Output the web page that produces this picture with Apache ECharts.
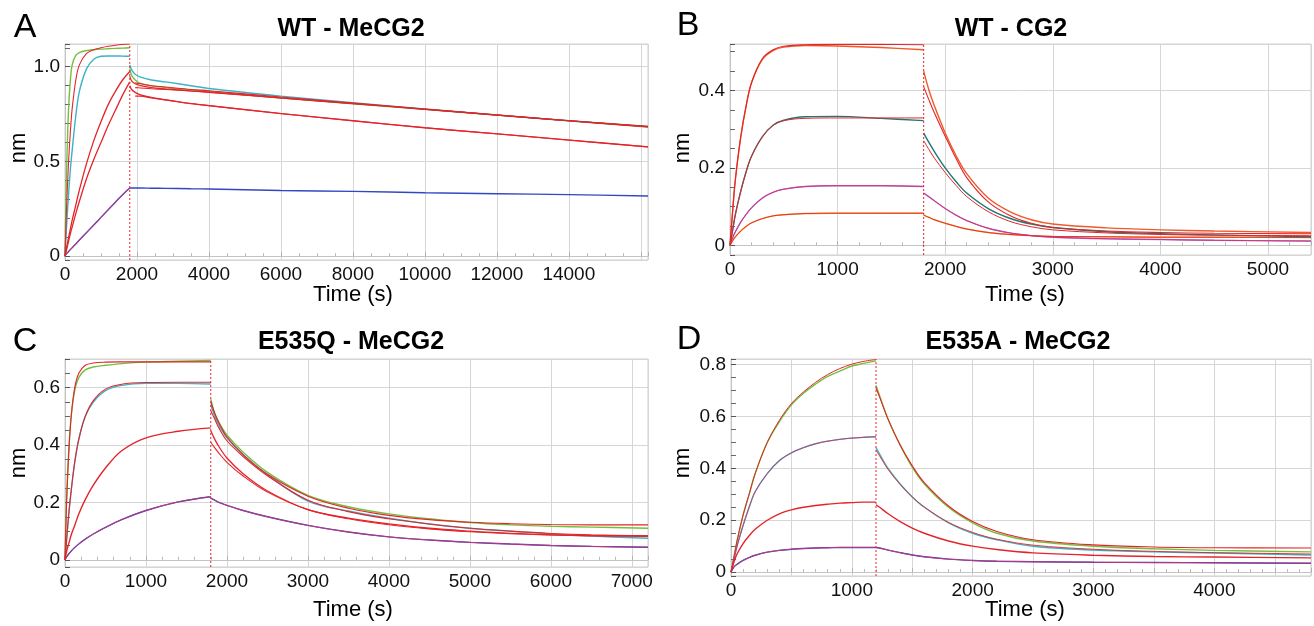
<!DOCTYPE html>
<html><head><meta charset="utf-8">
<script src="https://cdn.jsdelivr.net/npm/echarts@6/dist/echarts.min.js"></script>
<style>html,body{margin:0;padding:0;background:#fff}#c{width:1314px;height:626px}</style>
</head><body><div id="c"></div>
<script>
// ---------------- Panel A : WT - MeCG2 ----------------
const aSwitch = 1800;
const aTimeAssoc = [0, 25, 50, 100, 150, 200, 300, 400, 600, 800, 1000, 1200, 1400, 1600, 1800];
const aTimeDiss  = [1800, 1850, 1950, 2100, 2400, 2800, 3500, 4000, 6000, 8000, 10000, 12000, 14000, 16200];
const aGreenAssoc = [0, 0.28, 0.5, 0.78, 0.93, 1.01, 1.06, 1.075, 1.085, 1.09, 1.093, 1.095, 1.097, 1.098, 1.10];
const aGreenDiss  = [0.99, 0.955, 0.93, 0.912, 0.9, 0.89, 0.877, 0.87, 0.835, 0.805, 0.775, 0.745, 0.715, 0.682];
const aCyanAssoc  = [0, 0.09, 0.18, 0.33, 0.46, 0.56, 0.74, 0.87, 0.99, 1.04, 1.055, 1.057, 1.057, 1.056, 1.055];
const aCyanDiss   = [1.01, 0.985, 0.96, 0.945, 0.93, 0.92, 0.9, 0.885, 0.845, 0.81, 0.777, 0.745, 0.715, 0.685];
const aFitTopAssoc = [0, 0.15, 0.29, 0.5, 0.66, 0.78, 0.93, 1.01, 1.07, 1.09, 1.10, 1.108, 1.113, 1.117, 1.12];
const aRed3Assoc  = [0, 0.025, 0.05, 0.1, 0.145, 0.19, 0.27, 0.35, 0.49, 0.61, 0.71, 0.8, 0.87, 0.93, 0.975];
const aRed3Diss   = [0.95, 0.925, 0.91, 0.9, 0.89, 0.883, 0.872, 0.865, 0.835, 0.805, 0.775, 0.745, 0.715, 0.683];
const aRed4Assoc  = [0, 0.02, 0.04, 0.08, 0.12, 0.155, 0.225, 0.29, 0.41, 0.51, 0.6, 0.69, 0.77, 0.85, 0.92];
const aRed4Diss   = [0.9, 0.88, 0.865, 0.852, 0.838, 0.825, 0.805, 0.795, 0.753, 0.715, 0.678, 0.646, 0.613, 0.577];
const aBlueAssoc  = [0, 0.01, 0.015, 0.025, 0.035, 0.045, 0.065, 0.085, 0.125, 0.165, 0.205, 0.245, 0.285, 0.325, 0.36];
const aBlueDiss   = [0.36, 0.36, 0.36, 0.36, 0.359, 0.358, 0.356, 0.355, 0.347, 0.342, 0.335, 0.33, 0.325, 0.318];
const aFit1Diss   = [null, null, 0.915, 0.91, 0.9, 0.893, 0.88, 0.873, 0.84, 0.808, 0.777, 0.745, 0.715, 0.685];
const aFit2Diss   = [null, null, 0.89, 0.888, 0.884, 0.88, 0.872, 0.866, 0.835, 0.806, 0.776, 0.745, 0.715, 0.683];
const aFit4Diss   = [null, null, 0.845, 0.845, 0.835, 0.825, 0.806, 0.795, 0.753, 0.715, 0.678, 0.646, 0.613, 0.577];

// ---------------- Panel B : WT - CG2 ----------------
const bSwitch = 1800;
const bTimeAssoc = [0, 25, 50, 100, 150, 200, 300, 400, 500, 700, 1000, 1400, 1800];
const bTimeDiss  = [1800, 1850, 1900, 2000, 2100, 2200, 2400, 2600, 2800, 3000, 3500, 4000, 4500, 5400];
const bTopAssoc    = [0, 0.09, 0.17, 0.28, 0.36, 0.42, 0.48, 0.503, 0.512, 0.516, 0.515, 0.511, 0.505];
const bTopFitAssoc = [0, 0.09, 0.17, 0.28, 0.36, 0.42, 0.482, 0.505, 0.514, 0.518, 0.519, 0.519, 0.518];
const bTopDiss     = [0.45, 0.4, 0.36, 0.29, 0.232, 0.185, 0.122, 0.087, 0.066, 0.055, 0.045, 0.04, 0.037, 0.033];
const bTopFitDiss  = [0.41, 0.375, 0.342, 0.282, 0.225, 0.175, 0.112, 0.077, 0.057, 0.046, 0.037, 0.033, 0.031, 0.03];
const bTealAssoc   = [0, 0.04, 0.08, 0.14, 0.19, 0.23, 0.28, 0.31, 0.323, 0.332, 0.333, 0.328, 0.322];
const bTealFitAssoc= [0, 0.04, 0.08, 0.14, 0.19, 0.23, 0.28, 0.31, 0.322, 0.328, 0.329, 0.329, 0.329];
const bTealDiss    = [0.29, 0.265, 0.242, 0.2, 0.165, 0.135, 0.095, 0.07, 0.055, 0.046, 0.035, 0.03, 0.027, 0.022];
const bTealFitDiss = [0.27, 0.247, 0.225, 0.188, 0.155, 0.126, 0.087, 0.062, 0.048, 0.04, 0.032, 0.028, 0.026, 0.025];
const bPurpleAssoc = [0, 0.02, 0.035, 0.06, 0.08, 0.097, 0.122, 0.137, 0.145, 0.152, 0.154, 0.154, 0.152];
const bPurpleDiss  = [0.135, 0.125, 0.115, 0.095, 0.078, 0.064, 0.044, 0.032, 0.025, 0.021, 0.017, 0.015, 0.013, 0.011];
const bOrangeAssoc = [0, 0.012, 0.022, 0.037, 0.049, 0.058, 0.069, 0.076, 0.079, 0.082, 0.083, 0.083, 0.083];
const bOrangeDiss  = [0.078, 0.072, 0.066, 0.057, 0.049, 0.042, 0.033, 0.028, 0.025, 0.023, 0.022, 0.021, 0.021, 0.02];

// ---------------- Panel C : E535Q - MeCG2 ----------------
const cSwitch = 1800;
const cTimeAssoc = [0, 20, 50, 80, 120, 170, 250, 350, 500, 700, 1000, 1400, 1800];
const cTimeDiss  = [1800, 1850, 1900, 2000, 2200, 2500, 3000, 3500, 4000, 4500, 5000, 5500, 6000, 6500, 7200];
const cGreenAssoc    = [0, 0.22, 0.4, 0.51, 0.59, 0.635, 0.662, 0.672, 0.678, 0.684, 0.689, 0.692, 0.695];
const cGreenFitAssoc = [0, 0.2, 0.39, 0.51, 0.6, 0.65, 0.678, 0.686, 0.689, 0.69, 0.69, 0.69, 0.69];
const cGreenDiss     = [0.56, 0.51, 0.48, 0.435, 0.375, 0.305, 0.225, 0.185, 0.16, 0.143, 0.13, 0.122, 0.117, 0.114, 0.11];
const cGreenFitDiss  = [0.55, 0.51, 0.478, 0.428, 0.367, 0.298, 0.222, 0.18, 0.155, 0.14, 0.131, 0.126, 0.123, 0.122, 0.122];
const cCyanAssoc     = [0, 0.07, 0.17, 0.25, 0.34, 0.42, 0.5, 0.55, 0.59, 0.608, 0.615, 0.615, 0.613];
const cCyanFitAssoc  = [0, 0.07, 0.17, 0.25, 0.34, 0.42, 0.5, 0.555, 0.595, 0.612, 0.618, 0.619, 0.619];
const cCyanDiss      = [0.54, 0.5, 0.47, 0.425, 0.365, 0.297, 0.205, 0.17, 0.145, 0.125, 0.11, 0.1, 0.09, 0.083, 0.075];
const cCyanFitDiss   = [0.52, 0.49, 0.46, 0.415, 0.36, 0.293, 0.208, 0.168, 0.143, 0.125, 0.11, 0.1, 0.092, 0.087, 0.084];
const cRedAssoc      = [0, 0.03, 0.06, 0.09, 0.12, 0.16, 0.21, 0.26, 0.32, 0.38, 0.425, 0.448, 0.46];
const cRedDiss       = [0.45, 0.42, 0.395, 0.355, 0.3, 0.24, 0.175, 0.145, 0.125, 0.11, 0.1, 0.092, 0.087, 0.084, 0.082];
const cRedFitDiss    = [0.41, 0.39, 0.372, 0.34, 0.292, 0.236, 0.175, 0.143, 0.122, 0.108, 0.098, 0.091, 0.087, 0.085, 0.084];
const cBlueAssoc     = [0, 0.01, 0.022, 0.032, 0.043, 0.055, 0.072, 0.09, 0.113, 0.14, 0.172, 0.202, 0.22];
const cBlueDiss      = [0.215, 0.208, 0.2, 0.19, 0.172, 0.15, 0.12, 0.097, 0.08, 0.069, 0.061, 0.055, 0.05, 0.047, 0.044];

// ---------------- Panel D : E535A - MeCG2 ----------------
const dSwitch = 1200;
const dTimeAssoc = [0, 25, 50, 100, 150, 200, 300, 400, 500, 600, 700, 800, 900, 1000, 1100, 1200];
const dTimeDiss  = [1200, 1230, 1300, 1400, 1500, 1600, 1800, 2000, 2200, 2500, 3000, 3500, 4000, 4800];
const dGreenAssoc = [0, 0.06, 0.12, 0.22, 0.3, 0.38, 0.5, 0.58, 0.645, 0.69, 0.725, 0.755, 0.775, 0.795, 0.805, 0.815];
const dGreenFitAssoc = [0, 0.06, 0.12, 0.22, 0.3, 0.38, 0.5, 0.585, 0.65, 0.695, 0.732, 0.762, 0.785, 0.802, 0.813, 0.82];
const dGreenDiss  = [0.72, 0.68, 0.59, 0.49, 0.405, 0.34, 0.25, 0.19, 0.15, 0.12, 0.1, 0.09, 0.084, 0.078];
const dGreenFitDiss = [0.71, 0.675, 0.59, 0.49, 0.41, 0.345, 0.255, 0.195, 0.157, 0.125, 0.105, 0.097, 0.094, 0.093];
const dCyanAssoc  = [0, 0.05, 0.1, 0.18, 0.25, 0.31, 0.38, 0.43, 0.46, 0.48, 0.495, 0.505, 0.512, 0.517, 0.52, 0.522];
const dCyanDiss   = [0.48, 0.455, 0.4, 0.34, 0.29, 0.25, 0.19, 0.15, 0.125, 0.1, 0.085, 0.078, 0.074, 0.066];
const dCyanFitDiss = [0.47, 0.448, 0.396, 0.338, 0.29, 0.251, 0.192, 0.153, 0.127, 0.104, 0.088, 0.08, 0.075, 0.07];
const dRedAssoc   = [0, 0.04, 0.07, 0.11, 0.14, 0.165, 0.2, 0.225, 0.24, 0.25, 0.257, 0.262, 0.266, 0.268, 0.27, 0.27];
const dRedDiss    = [0.26, 0.25, 0.225, 0.195, 0.17, 0.15, 0.12, 0.1, 0.087, 0.074, 0.065, 0.06, 0.058, 0.055];
const dBlueAssoc  = [0, 0.02, 0.03, 0.045, 0.056, 0.065, 0.077, 0.084, 0.088, 0.091, 0.093, 0.094, 0.095, 0.095, 0.095, 0.095];
const dBlueDiss   = [0.095, 0.093, 0.085, 0.075, 0.066, 0.059, 0.05, 0.045, 0.042, 0.04, 0.038, 0.037, 0.036, 0.034];

// tick label lists
const aXLabels = [0, 2000, 4000, 6000, 8000, 10000, 12000, 14000];
const bXLabels = [0, 1000, 2000, 3000, 4000, 5000];
const cXLabels = [0, 1000, 2000, 3000, 4000, 5000, 6000, 7000];
const dXLabels = [0, 1000, 2000, 3000, 4000];
const aYLabels = [0, 0.5, 1.0];
const bYLabels = [0, 0.2, 0.4];
const cYLabels = [0, 0.2, 0.4, 0.6];
const dYLabels = [0, 0.2, 0.4, 0.6, 0.8];

const RED = '#e4242a', GREEN = '#72c03e', CYAN = '#3cb3c6', BLUE = '#3347c2',
      PURPLE = '#a678e6', ORANGE = '#f2a132', TEAL = '#1f7774', PINK = '#d8316a';
const FONT = 'Liberation Sans, Arial, sans-serif';

function pairs(ts, vs) {
  const out = [];
  ts.forEach((t, i) => { if (vs[i] !== null && vs[i] !== undefined) out.push([t, vs[i]]); });
  return out;
}
function line(g, ts, vs, color, width, z) {
  return {
    type: 'line', xAxisIndex: g, yAxisIndex: g, data: pairs(ts, vs),
    showSymbol: false, symbol: 'none', smooth: 0.35,
    lineStyle: { color: color, width: width }, itemStyle: { color: color },
    silent: true, animation: false, z: z, clip: true
  };
}

const grids = [
  { left: 65, top: 44, width: 583, height: 216 },
  { left: 730, top: 44, width: 584, height: 211 },
  { left: 65, top: 359, width: 583, height: 208 },
  { left: 731, top: 359, width: 583, height: 217 }
];
const xCfg = [
  { max: 16200, interval: 2000, minor: 4, labels: aXLabels },
  { max: 5400, interval: 1000, minor: 5, labels: bXLabels },
  { max: 7200, interval: 1000, minor: 5, labels: cXLabels },
  { max: 4800, interval: 500, minor: 5, labels: dXLabels }
];
const yCfg = [
  { min: -0.02, max: 1.12, split: 2, minor: 5, labels: aYLabels },
  { min: -0.025, max: 0.52, split: 3, minor: 4, labels: bYLabels },
  { min: -0.025, max: 0.7, split: 4, minor: 4, labels: cYLabels },
  { min: -0.015, max: 0.822, split: 4, minor: 4, labels: dYLabels }
];
function vline(g, x) {
  const y = yCfg[g];
  return {
    type: 'line', xAxisIndex: g, yAxisIndex: g, data: [[x, y.min], [x, y.max]],
    showSymbol: false, symbol: 'none', silent: true, animation: false, z: 4,
    lineStyle: { color: RED, type: [2, 2], width: 1 }, itemStyle: { color: RED }
  };
}

const xAxes = xCfg.map((c, i) => ({
  type: 'value', gridIndex: i, min: 0, max: c.max, interval: c.interval,
  axisLine: { show: true, lineStyle: { color: '#c4c4c4', width: 1 } },
  axisTick: { show: true, inside: true, length: 4, lineStyle: { color: '#b0b0b0' } },
  minorTick: { show: true, splitNumber: c.minor, length: 3, lineStyle: { color: '#b8b8b8' } },
  splitLine: { show: true, lineStyle: { color: '#d6d6d6', width: 1 } },
  axisLabel: { interval: 0, color: '#111', fontSize: 19, fontFamily: FONT, margin: 5, hideOverlap: false,
    formatter: v => (c.labels.some(l => Math.abs(l - v) < 1e-6) ? String(v) : '') }
}));
const yAxes = yCfg.map((c, i) => ({
  type: 'value', gridIndex: i, min: c.min, max: c.max, splitNumber: c.split,
  axisLine: { show: true, lineStyle: { color: '#c4c4c4', width: 1 } },
  axisTick: { show: true, inside: true, length: 5, lineStyle: { color: '#555' } },
  minorTick: { show: true, splitNumber: c.minor, length: 5, lineStyle: { color: '#666' } },
  splitLine: { show: true, lineStyle: { color: '#d6d6d6', width: 1 } },
  axisLabel: { color: '#111', fontSize: 19, fontFamily: FONT, margin: 5, showMinLabel: true, showMaxLabel: true,
    formatter: v => (c.labels.some(l => Math.abs(l - v) < 1e-6) ? (Math.abs(v) < 1e-9 ? '0' : v.toFixed(1)) : '') }
}));

const series = [
  // Panel A
  line(0, aTimeAssoc, aBlueAssoc, BLUE, 1.4, 2),
  line(0, aTimeDiss, aBlueDiss, BLUE, 1.4, 2),
  line(0, aTimeAssoc, aBlueAssoc, PINK, 1, 3),
  line(0, aTimeAssoc, aGreenAssoc, GREEN, 1.4, 2),
  line(0, aTimeDiss, aGreenDiss, GREEN, 1.4, 2),
  line(0, aTimeAssoc, aCyanAssoc, CYAN, 1.4, 2),
  line(0, aTimeDiss, aCyanDiss, CYAN, 1.4, 2),
  line(0, aTimeAssoc, aFitTopAssoc, RED, 1.1, 3),
  line(0, aTimeAssoc, aRed3Assoc, RED, 1.3, 3),
  line(0, aTimeDiss, aRed3Diss, RED, 1.2, 3),
  line(0, aTimeAssoc, aRed4Assoc, RED, 1.3, 3),
  line(0, aTimeDiss, aRed4Diss, RED, 1.3, 3),
  line(0, aTimeDiss, aFit1Diss, RED, 1.1, 3),
  line(0, aTimeDiss, aFit2Diss, RED, 1.1, 3),
  line(0, aTimeDiss, aFit4Diss, RED, 1.1, 3),
  vline(0, aSwitch),
  // Panel B
  line(1, bTimeAssoc, bOrangeAssoc, ORANGE, 1.4, 2),
  line(1, bTimeDiss, bOrangeDiss, ORANGE, 1.4, 2),
  line(1, bTimeAssoc, bPurpleAssoc, PURPLE, 1.4, 2),
  line(1, bTimeDiss, bPurpleDiss, PURPLE, 1.4, 2),
  line(1, bTimeAssoc, bTealAssoc, TEAL, 1.4, 2),
  line(1, bTimeDiss, bTealDiss, TEAL, 1.4, 2),
  line(1, bTimeAssoc, bTopAssoc, '#ef5a2a', 1.4, 2),
  line(1, bTimeDiss, bTopDiss, '#ef5a2a', 1.4, 2),
  line(1, bTimeAssoc, bTopFitAssoc, RED, 1.1, 3),
  line(1, bTimeDiss, bTopFitDiss, RED, 1.1, 3),
  line(1, bTimeAssoc, bTealFitAssoc, RED, 1.0, 3),
  line(1, bTimeDiss, bTealFitDiss, RED, 1.0, 3),
  line(1, bTimeAssoc, bPurpleAssoc, PINK, 1.0, 3),
  line(1, bTimeDiss, bPurpleDiss, PINK, 1.0, 3),
  line(1, bTimeAssoc, bOrangeAssoc, RED, 0.9, 3),
  line(1, bTimeDiss, bOrangeDiss, RED, 0.9, 3),
  vline(1, bSwitch),
  // Panel C
  line(2, cTimeAssoc, cBlueAssoc, BLUE, 1.4, 2),
  line(2, cTimeDiss, cBlueDiss, BLUE, 1.4, 2),
  line(2, cTimeAssoc, cBlueAssoc, PINK, 0.9, 3),
  line(2, cTimeDiss, cBlueDiss, PINK, 0.9, 3),
  line(2, cTimeAssoc, cGreenAssoc, GREEN, 1.4, 2),
  line(2, cTimeDiss, cGreenDiss, GREEN, 1.4, 2),
  line(2, cTimeAssoc, cCyanAssoc, CYAN, 1.4, 2),
  line(2, cTimeDiss, cCyanDiss, CYAN, 1.4, 2),
  line(2, cTimeAssoc, cGreenFitAssoc, RED, 1.1, 3),
  line(2, cTimeDiss, cGreenFitDiss, RED, 1.1, 3),
  line(2, cTimeAssoc, cCyanFitAssoc, RED, 1.1, 3),
  line(2, cTimeDiss, cCyanFitDiss, RED, 1.1, 3),
  line(2, cTimeAssoc, cRedAssoc, RED, 1.4, 3),
  line(2, cTimeDiss, cRedDiss, RED, 1.3, 3),
  line(2, cTimeDiss, cRedFitDiss, RED, 1.1, 3),
  vline(2, cSwitch),
  // Panel D
  line(3, dTimeAssoc, dBlueAssoc, BLUE, 1.4, 2),
  line(3, dTimeDiss, dBlueDiss, BLUE, 1.4, 2),
  line(3, dTimeAssoc, dBlueAssoc, PINK, 0.9, 3),
  line(3, dTimeDiss, dBlueDiss, PINK, 0.9, 3),
  line(3, dTimeAssoc, dGreenAssoc, GREEN, 1.4, 2),
  line(3, dTimeDiss, dGreenDiss, GREEN, 1.4, 2),
  line(3, dTimeAssoc, dCyanAssoc, CYAN, 1.4, 2),
  line(3, dTimeDiss, dCyanDiss, CYAN, 1.4, 2),
  line(3, dTimeAssoc, dGreenFitAssoc, RED, 1.0, 3),
  line(3, dTimeDiss, dGreenFitDiss, RED, 1.1, 3),
  line(3, dTimeAssoc, dCyanAssoc, PINK, 0.9, 3),
  line(3, dTimeDiss, dCyanFitDiss, RED, 0.9, 3),
  line(3, dTimeAssoc, dRedAssoc, RED, 1.4, 3),
  line(3, dTimeDiss, dRedDiss, RED, 1.4, 3),
  vline(3, dSwitch)
];

function txt(x, y, s, size, weight, rot) {
  return { type: 'text', x: x, y: y, rotation: rot || 0, silent: true,
    style: { text: s, fill: '#000', font: (weight || 'normal') + ' ' + size + 'px ' + FONT,
      textAlign: 'center', textVerticalAlign: 'middle' } };
}
const graphic = [
  txt(25, 28, 'A', 34), txt(688, 26, 'B', 34), txt(25, 342, 'C', 34), txt(689, 340, 'D', 34),
  txt(351, 29, 'WT - MeCG2', 25, 'bold'), txt(1011, 29, 'WT - CG2', 25, 'bold'),
  txt(351, 342, 'E535Q - MeCG2', 25, 'bold'), txt(1018, 342, 'E535A - MeCG2', 25, 'bold'),
  txt(353, 295, 'Time (s)', 22), txt(1025, 295, 'Time (s)', 22),
  txt(353, 610, 'Time (s)', 22), txt(1025, 610, 'Time (s)', 22),
  txt(19, 148, 'nm', 22, 'normal', Math.PI / 2), txt(683, 148, 'nm', 22, 'normal', Math.PI / 2),
  txt(19, 463, 'nm', 22, 'normal', Math.PI / 2), txt(683, 463, 'nm', 22, 'normal', Math.PI / 2)
];

const chart = echarts.init(document.getElementById('c'), null, { renderer: 'canvas' });
chart.setOption({
  backgroundColor: '#fff', animation: false,
  grid: grids.map(g => Object.assign({ show: true, borderColor: '#cfcfcf', borderWidth: 1, backgroundColor: '#fff' }, g)),
  xAxis: xAxes, yAxis: yAxes, series: series, graphic: graphic
});
</script></body></html>
